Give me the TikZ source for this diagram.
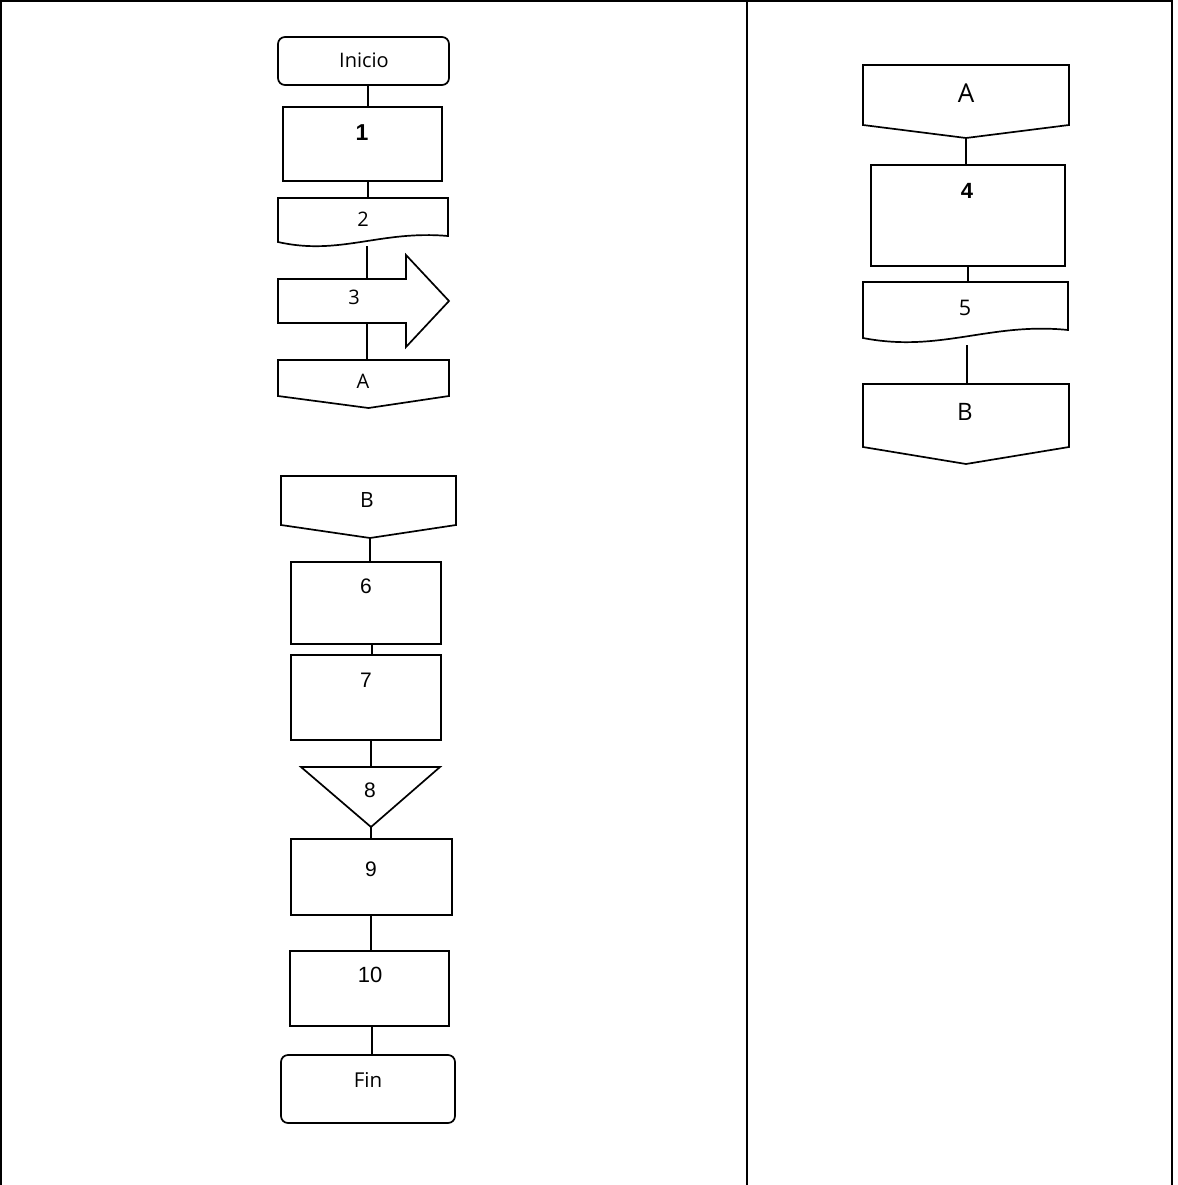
\documentclass[tikz,border=0pt]{standalone}
\usepackage{fontspec}
\setmainfont{Liberation Sans}
\newfontfamily\hum{Open Sans}
\usetikzlibrary{fit}
\begin{document}
\begin{tikzpicture}[x=1pt,y=-1pt,
  box/.style={draw=black,line width=1.7pt,inner sep=0pt,outer sep=0pt},
  term/.style={box,rounded corners=7pt},
  hid/.style={inner sep=0pt,outer sep=0pt},
  outl/.style={draw=black,line width=1.7pt,line join=miter},
  conn/.style={draw=black,line width=1.4pt},
  frm/.style={draw=black,line width=1.5pt},
  lblA/.style={inner sep=0pt,font=\fontsize{21}{21}\selectfont},
  lblB/.style={inner sep=0pt,font=\hum\fontsize{20}{20}\selectfont}]
\useasboundingbox (0,0) rectangle (1177,1185);
% frame
\draw[frm] (0,1) -- (1173,1);
\draw[frm] (1,0) -- (1,1185);
\draw[frm] (747,0) -- (747,1185);
\draw[frm] (1172,0) -- (1172,1185);

% ---- left column, top ----
\node[term,fit={(278,37) (449,85)}] (ini) {};
\node[lblB,font=\hum\fontsize{20}{20}\selectfont] (tini) at (364,60) {Inicio};
\node[box,fit={(283,107) (442,181)}] (n1) {};
\node[lblA,font=\bfseries\fontsize{23}{23}\selectfont] (t1) at (362,133) {1};
\node[hid,fit={(278,198) (448,246)}] (n2) {};
\draw[outl] (278,242) -- (278,198) -- (448,198) -- (448,236)
  .. controls (380,230) and (340,256) .. cycle;
\node[lblB] (t2) at (363,219) {2};
\node[hid,fit={(278,279) (406,323)}] (n3) {};
\draw[outl] (278,279) -- (406,279) -- (406,255) -- (449,301) -- (406,347)
  -- (406,323) -- (278,323) -- cycle;
\node[lblB] (t3) at (354,297) {3};
\node[hid,fit={(278,360) (449,408)}] (nA1) {};
\draw[outl] (nA1.north west) -- (nA1.north east) -- (449,396) -- ([xshift=5pt]nA1.south)
  -- (278,396) -- cycle;
\node[lblB] (tA1) at (363,381) {A};

\draw[conn] ([xshift=4.5pt]ini.south) -- ([xshift=4.5pt]ini.south |- n1.north);
\draw[conn] ([xshift=5.5pt]n1.south) -- ([xshift=5.5pt]n1.south |- n2.north);
\draw[conn] ([xshift=4pt]n2.south) -- ([xshift=4pt]n2.south |- n3.north);
\draw[conn] ([xshift=25pt]n3.south) -- ([xshift=25pt]n3.south |- nA1.north);

% ---- left column, bottom ----
\node[hid,fit={(281,476) (456,538)}] (nB1) {};
\draw[outl] (nB1.north west) -- (nB1.north east) -- (456,525) -- ([xshift=1.5pt]nB1.south)
  -- (281,525) -- cycle;
\node[lblB,font=\hum\fontsize{21}{21}\selectfont] (tB1) at (367,500) {B};
\node[box,fit={(291,562) (441,644)}] (n6) {};
\node[lblA] (t6) at (366,586) {6};
\node[box,fit={(291,655) (441,740)}] (n7) {};
\node[lblA] (t7) at (366,680) {7};
\node[hid,fit={(301,767) (440,827)}] (n8) {};
\draw[outl] (n8.north west) -- (n8.north east) -- ([xshift=0.5pt]n8.south) -- cycle;
\node[lblA] (t8) at (370,790) {8};
\node[box,fit={(291,839) (452,915)}] (n9) {};
\node[lblA] (t9) at (371,869) {9};
\node[box,fit={(290,951) (449,1026)}] (n10) {};
\node[lblA,font=\fontsize{22}{22}\selectfont] (t10) at (370,975) {10};
\node[term,fit={(281,1055) (455,1123)}] (fin) {};
\node[lblB,font=\hum\fontsize{20.5}{20.5}\selectfont] (tfin) at (368,1080) {Fin};

\draw[conn] ([xshift=1.5pt]nB1.south) -- ([xshift=1.5pt]nB1.south |- n6.north);
\draw[conn] ([xshift=6pt]n6.south) -- ([xshift=6pt]n6.south |- n7.north);
\draw[conn] ([xshift=5pt]n7.south) -- ([xshift=5pt]n7.south |- n8.north);
\draw[conn] ([xshift=0.5pt]n8.south) -- ([xshift=0.5pt]n8.south |- n9.north);
\draw[conn] ([xshift=-0.5pt]n9.south) -- ([xshift=-0.5pt]n9.south |- n10.north);
\draw[conn] ([xshift=2.5pt]n10.south) -- ([xshift=2.5pt]n10.south |- fin.north);

% ---- right column ----
\node[hid,fit={(863,65) (1069,138)}] (nA2) {};
\draw[outl] (nA2.north west) -- (nA2.north east) -- (1069,125) -- (nA2.south)
  -- (863,125) -- cycle;
\node[lblB,font=\hum\fontsize{26}{26}\selectfont] (tA2) at (966,93) {A};
\node[box,fit={(871,165) (1065,266)}] (n4) {};
\node[lblA,font=\bfseries\fontsize{22}{22}\selectfont] (t4) at (967,191) {4};
\node[hid,fit={(863,282) (1068,345)}] (n5) {};
\draw[outl] (863,338) -- (863,282) -- (1068,282) -- (1068,330)
  .. controls (990,322) and (940,353) .. cycle;
\node[lblB,font=\hum\fontsize{21.5}{21.5}\selectfont] (t5) at (965,308) {5};
\node[hid,fit={(863,384) (1069,464)}] (nB2) {};
\draw[outl] (nB2.north west) -- (nB2.north east) -- (1069,447) -- (nB2.south)
  -- (863,447) -- cycle;
\node[lblB,font=\hum\fontsize{24}{24}\selectfont] (tB2) at (965,412) {B};

\draw[conn] (nA2.south) -- (nA2.south |- n4.north);
\draw[conn] (n4.south) -- (n4.south |- n5.north);
\draw[conn] ([xshift=1.5pt]n5.south) -- ([xshift=1.5pt]n5.south |- nB2.north);
\end{tikzpicture}
\end{document}
